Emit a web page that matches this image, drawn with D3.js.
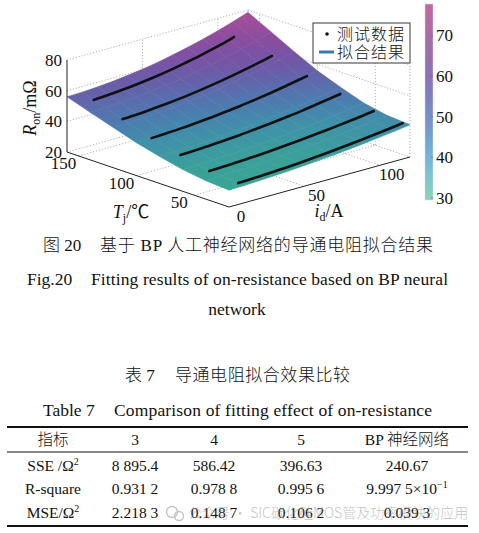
<!DOCTYPE html>
<html>
<head>
<meta charset="utf-8">
<script src="https://cdn.jsdelivr.net/npm/d3@7"></script>
<style>
html, body { margin: 0; padding: 0; background: #fff; }
svg { display: block; }
text { font-family: "Liberation Serif", "Times New Roman", "Noto Sans CJK SC", serif; fill: #111; }
.cjk { font-family: "Noto Sans CJK SC", sans-serif; font-weight: 300; }
.cap { font-weight: 300; }
</style>
</head>
<body>
<svg id="chart" width="479" height="533"></svg>
<script>
// ---------- Data ----------
// fitted surface: Ron (mΩ) on a Tj x id grid
const tjRows = [20, 40, 60, 80, 100, 120, 140, 160];
const idCols = [0, 10, 20, 30, 40, 50, 60, 70, 80, 90, 100, 110, 120];
const ronT20  = [31.0, 31.3, 31.7, 32.2, 32.8, 33.5, 34.3, 35.1, 36.1, 37.2, 38.4, 39.6, 41.0];
const ronT40  = [32.0, 32.3, 32.7, 33.1, 33.7, 34.4, 35.2, 36.1, 37.1, 38.2, 39.4, 40.7, 42.1];
const ronT60  = [34.2, 34.5, 34.9, 35.4, 36.0, 36.7, 37.6, 38.5, 39.6, 40.8, 42.1, 43.5, 45.0];
const ronT80  = [37.6, 37.9, 38.3, 38.9, 39.6, 40.4, 41.4, 42.5, 43.7, 45.1, 46.7, 48.3, 50.1];
const ronT100 = [41.4, 41.7, 42.2, 42.8, 43.6, 44.5, 45.6, 46.9, 48.3, 49.9, 51.7, 53.6, 55.7];
const ronT120 = [46.2, 46.5, 47.0, 47.7, 48.6, 49.7, 51.0, 52.5, 54.2, 56.1, 58.2, 60.5, 63.0];
const ronT140 = [51.0, 51.3, 51.9, 52.7, 53.7, 55.0, 56.5, 58.3, 60.3, 62.6, 65.1, 67.8, 70.8];
const ronT160 = [56.0, 56.3, 56.9, 57.8, 59.0, 60.4, 62.1, 64.2, 66.5, 69.0, 71.9, 75.1, 78.5];

// measured test data (one curve per junction temperature)
const testTj = [150, 125, 100, 75, 50, 25];
const testId150 = [10, 20, 30, 40, 50, 60, 70, 80, 90, 100, 103];
const testRon150 = [53.8, 54.4, 55.3, 56.4, 57.7, 59.3, 61.3, 63.4, 65.8, 68.5, 69.6];
const testId125 = [10, 20, 30, 40, 50, 60, 70, 80, 90, 100, 109];
const testRon125 = [47.7, 48.2, 49.0, 49.9, 51.0, 52.4, 54.0, 55.7, 57.7, 59.9, 62.1];
const testId100 = [10, 20, 30, 40, 50, 60, 70, 80, 90, 100, 110, 113];
const testRon100 = [41.7, 42.2, 42.8, 43.6, 44.5, 45.6, 46.9, 48.3, 49.9, 51.7, 53.6, 54.2];
const testId75 = [10, 20, 30, 40, 50, 60, 70, 80, 90, 100, 110, 116];
const testRon75 = [37.1, 37.5, 38.0, 38.7, 39.5, 40.5, 41.5, 42.7, 44.0, 45.6, 47.1, 48.1];
const testId50 = [10, 20, 30, 40, 50, 60, 70, 80, 90, 100, 110, 119];
const testRon50 = [33.0, 33.4, 33.8, 34.4, 35.1, 35.9, 36.8, 37.8, 38.9, 40.1, 41.3, 42.6];
const testId25 = [10, 20, 30, 40, 50, 60, 70, 80, 90, 100, 110, 119];
const testRon25 = [31.6, 32.0, 32.4, 33.0, 33.7, 34.5, 35.4, 36.4, 37.5, 38.7, 39.9, 41.1];

// ticks
const zTicks = [20, 40, 60, 80];
const tjTicks = [150, 100, 50];
const idTicks = [0, 50, 100];
const cbTicks = [30, 40, 50, 60, 70];

// colours (surface is darker than the colour bar)
const colorZ = [30, 35, 40, 45, 50, 55, 60, 65, 70, 78];
const surfColors = ["#3aa592", "#3b9e9c", "#3f92a8", "#4882ae", "#5572ae", "#6462aa", "#7256a6", "#8050a2", "#8f4c9e", "#a84e9a"];
const barColors  = ["#8ad0bc", "#7ec6cc", "#74b6d6", "#72a2d0", "#7690c6", "#7f80bc", "#8c72b2", "#9a6eac", "#a86ca8", "#c46aa0"];

// table
const tableHead = ["指标", "3", "4", "5", "BP 神经网络"];
const rowSSE = ["SSE /Ω^2", "8 895.4", "586.42", "396.63", "240.67"];
const rowR2  = ["R-square", "0.931 2", "0.978 8", "0.995 6", "9.997 5×10^−1"];
const rowMSE = ["MSE/Ω^2", "2.218 3", "0.148 7", "0.106 2", "0.039 3"];

// ---------- Setup ----------
const svg = d3.select("#chart");
const defs = svg.append("defs");

const ronGrid = [ronT20, ronT40, ronT60, ronT80, ronT100, ronT120, ronT140, ronT160];
const testCurves = [
  { tj: testTj[0], id: testId150, ron: testRon150 },
  { tj: testTj[1], id: testId125, ron: testRon125 },
  { tj: testTj[2], id: testId100, ron: testRon100 },
  { tj: testTj[3], id: testId75,  ron: testRon75 },
  { tj: testTj[4], id: testId50,  ron: testRon50 },
  { tj: testTj[5], id: testId25,  ron: testRon25 }
];

// 3-D axes: each scale gives a 0..1 position along its box edge
const uT = d3.scaleLinear().domain([160, 20]).range([0, 1]);
const uI = d3.scaleLinear().domain([0, 120]).range([0, 1]);
const uZ = d3.scaleLinear().domain([20, 80]).range([0, 1]);
const O = [67, 152], eT = [162, 55], eI = [181, -50], eZ = [0, -92];
function proj(t, i, z) {
  const a = uT(t), b = uI(i), c = uZ(z);
  return [O[0] + a*eT[0] + b*eI[0] + c*eZ[0], O[1] + a*eT[1] + b*eI[1] + c*eZ[1]];
}
const surfColor = d3.scaleLinear().domain(colorZ).range(surfColors).clamp(true);

// ---------- Grid (back walls + floor) ----------
const gGrid = svg.append("g").attr("fill", "none").attr("stroke", "#7a7a7a")
  .attr("stroke-width", 0.6).attr("stroke-dasharray", "1.2,1.8");
const seg = (p, q) => gGrid.append("line").attr("x1", p[0]).attr("y1", p[1]).attr("x2", q[0]).attr("y2", q[1]);
zTicks.forEach(z => {
  seg(proj(160, 0, z), proj(160, 120, z));
  seg(proj(160, 120, z), proj(20, 120, z));
});
idTicks.filter(d => d > 0).forEach(i => {
  seg(proj(160, i, 20), proj(160, i, 80));
  seg(proj(160, i, 20), proj(20, i, 20));
});
tjTicks.forEach(t => {
  seg(proj(t, 120, 20), proj(t, 120, 80));
  seg(proj(t, 0, 20), proj(t, 120, 20));
});
seg(proj(160, 120, 20), proj(160, 120, 80));
seg(proj(20, 120, 20), proj(20, 120, 80));

// ---------- Surface ----------
const quads = [];
for (let r = 0; r < tjRows.length - 1; r++) {
  for (let c = 0; c < idCols.length - 1; c++) {
    const k = [[r, c], [r + 1, c], [r + 1, c + 1], [r, c + 1]];
    const pts = k.map(([a, b]) => proj(tjRows[a], idCols[b], ronGrid[a][b]));
    const zs = k.map(([a, b]) => ronGrid[a][b]);
    const depth = (tjRows[r] + tjRows[r + 1]) / 280 + (idCols[c] + idCols[c + 1]) / 240;
    quads.push({ pts, zs, depth });
  }
}
quads.sort((a, b) => b.depth - a.depth);

const gSurf = svg.append("g");
quads.forEach((q, n) => {
  const [p0, p1, p2, p3] = q.pts, [z0, z1, z2, z3] = q.zs;
  // screen-space slope of Ron over the quad, used for the shading direction
  const e1 = [((p1[0]-p0[0]) + (p2[0]-p3[0]))/2, ((p1[1]-p0[1]) + (p2[1]-p3[1]))/2];
  const d1 = ((z1-z0) + (z2-z3))/2;
  const e2 = [((p3[0]-p0[0]) + (p2[0]-p1[0]))/2, ((p3[1]-p0[1]) + (p2[1]-p1[1]))/2];
  const d2 = ((z3-z0) + (z2-z1))/2;
  const det = e1[0]*e2[1] - e1[1]*e2[0];
  const gx = (d1*e2[1] - d2*e1[1]) / det, gy = (e1[0]*d2 - e2[0]*d1) / det;
  const g2 = gx*gx + gy*gy;
  const cx = d3.mean(q.pts, p => p[0]), cy = d3.mean(q.pts, p => p[1]), zc = d3.mean(q.zs);
  const zmin = d3.min(q.zs), zmax = d3.max(q.zs);
  const id = "sq" + n;
  const grad = defs.append("linearGradient").attr("id", id).attr("gradientUnits", "userSpaceOnUse")
    .attr("x1", cx + gx*(zmin - zc)/g2).attr("y1", cy + gy*(zmin - zc)/g2)
    .attr("x2", cx + gx*(zmax - zc)/g2).attr("y2", cy + gy*(zmax - zc)/g2);
  [0, 0.5, 1].forEach(o => grad.append("stop").attr("offset", o)
    .attr("stop-color", surfColor(zmin + o*(zmax - zmin))));
  gSurf.append("path")
    .attr("d", "M" + q.pts.map(p => p.join(",")).join("L") + "Z")
    .attr("fill", `url(#${id})`).attr("stroke", `url(#${id})`).attr("stroke-width", 0.6)
    .attr("stroke-linejoin", "round");
});

// ---------- Test data curves ----------
const line = d3.line().curve(d3.curveCatmullRom);
svg.append("g").selectAll("path").data(testCurves).enter().append("path")
  .attr("d", d => line(d.id.map((i, k) => proj(d.tj, i, d.ron[k]))))
  .attr("fill", "none").attr("stroke", "#111").attr("stroke-width", 2.6).attr("stroke-linecap", "round");

// ---------- Axes ----------
const gAx = svg.append("g").attr("stroke", "#222").attr("stroke-width", 1).attr("fill", "none");
const axLine = (p, q) => gAx.append("line").attr("x1", p[0]).attr("y1", p[1]).attr("x2", q[0]).attr("y2", q[1]);
axLine(proj(160, 0, 20), proj(160, 0, 80));
axLine(proj(160, 0, 20), proj(20, 0, 20));
axLine(proj(20, 0, 20), proj(20, 120, 20));

const gLab = svg.append("g").attr("font-size", 17);
zTicks.forEach(z => {
  const p = proj(160, 0, z);
  gLab.append("text").attr("x", p[0] - 5).attr("y", p[1] + 6).attr("text-anchor", "end").text(z);
});
tjTicks.forEach(t => {
  const p = proj(t, 0, 20);
  gLab.append("text").attr("x", p[0] - 15).attr("y", p[1] + 13).attr("text-anchor", "middle").text(t);
});
idTicks.forEach(i => {
  const p = proj(20, i, 20);
  gLab.append("text").attr("x", p[0] + 12).attr("y", p[1] + 15).attr("text-anchor", "middle").text(i);
});

// axis titles
const zt = gLab.append("text").attr("transform", "translate(36,108) rotate(-90)").attr("text-anchor", "middle").attr("font-size", 18);
zt.append("tspan").attr("font-style", "italic").text("R");
zt.append("tspan").attr("font-size", 12).attr("dy", 4).text("on");
zt.append("tspan").attr("dy", -4).text("/mΩ");

const tt = gLab.append("text").attr("x", 131).attr("y", 218).attr("text-anchor", "middle").attr("font-size", 18);
tt.append("tspan").attr("font-style", "italic").text("T");
tt.append("tspan").attr("font-size", 12).attr("dy", 4).text("j");
tt.append("tspan").attr("dy", -4).text("/℃");

const it = gLab.append("text").attr("x", 329).attr("y", 217).attr("text-anchor", "middle").attr("font-size", 18);
it.append("tspan").attr("font-style", "italic").text("i");
it.append("tspan").attr("font-size", 12).attr("dy", 4).text("d");
it.append("tspan").attr("dy", -4).text("/A");

// ---------- Legend ----------
const lg = svg.append("g");
lg.append("rect").attr("x", 313).attr("y", 23).attr("width", 97).attr("height", 40)
  .attr("fill", "#fff").attr("stroke", "#222").attr("stroke-width", 0.9);
lg.append("circle").attr("cx", 327).attr("cy", 34).attr("r", 1.8).attr("fill", "#111");
lg.append("line").attr("x1", 319).attr("x2", 334).attr("y1", 52).attr("y2", 52)
  .attr("stroke", "#3a78b4").attr("stroke-width", 3);
lg.append("text").attr("class", "cjk").attr("x", 337).attr("y", 40).attr("font-size", 16)
  .attr("letter-spacing", 1).text("测试数据");
lg.append("text").attr("class", "cjk").attr("x", 337).attr("y", 58).attr("font-size", 16)
  .attr("letter-spacing", 1).text("拟合结果");

// ---------- Colour bar ----------
const cbY = d3.scaleLinear().domain([29.5, 77.7]).range([200, 4]);
const cbGrad = defs.append("linearGradient").attr("id", "cbar").attr("x1", 0).attr("y1", 1).attr("x2", 0).attr("y2", 0);
colorZ.forEach((z, k) => cbGrad.append("stop")
  .attr("offset", Math.min(1, (z - 29.5) / (77.7 - 29.5))).attr("stop-color", barColors[k]));
svg.append("rect").attr("x", 425).attr("y", cbY(77.7)).attr("width", 8).attr("height", cbY(29.5) - cbY(77.7))
  .attr("fill", "url(#cbar)").attr("stroke", "#d8d8d8").attr("stroke-width", 0.5);
cbTicks.forEach(v => {
  svg.append("line").attr("x1", 431).attr("x2", 433).attr("y1", cbY(v)).attr("y2", cbY(v))
    .attr("stroke", "#666").attr("stroke-width", 0.6);
  svg.append("text").attr("x", 436).attr("y", cbY(v) + 6).attr("font-size", 17).text(v);
});

// ---------- Captions ----------
const cap = svg.append("g").attr("font-size", 17);
cap.append("text").attr("class", "cap").attr("x", 43).attr("y", 251).text("图 20");
cap.append("text").attr("class", "cap").attr("x", 100).attr("y", 251).attr("textLength", 333).attr("lengthAdjust", "spacing")
  .text("基于 BP 人工神经网络的导通电阻拟合结果");
cap.append("text").attr("x", 27).attr("y", 285).attr("font-size", 17.5).text("Fig.20");
cap.append("text").attr("x", 91).attr("y", 285).attr("font-size", 17.5).attr("textLength", 357)
  .attr("lengthAdjust", "spacing").text("Fitting results of on-resistance based on BP neural");
cap.append("text").attr("x", 237).attr("y", 315).attr("font-size", 17.5).attr("text-anchor", "middle").text("network");
cap.append("text").attr("class", "cap").attr("x", 125).attr("y", 381).text("表 7");
cap.append("text").attr("class", "cap").attr("x", 175).attr("y", 381).attr("textLength", 175).attr("lengthAdjust", "spacing")
  .text("导通电阻拟合效果比较");
cap.append("text").attr("x", 43).attr("y", 416).attr("font-size", 17.5).text("Table 7");
cap.append("text").attr("x", 114).attr("y", 416).attr("font-size", 17.5).attr("textLength", 318)
  .attr("lengthAdjust", "spacing").text("Comparison of fitting effect of on-resistance");

// ---------- Table ----------
const colX = [53, 135, 214, 301, 407];
const tb = svg.append("g").attr("font-size", 15.5);
[[7, 468, 427, 1.8], [7, 468, 452, 1], [7, 468, 526, 1.8]].forEach(([a, b, y, w]) =>
  tb.append("line").attr("x1", a).attr("x2", b).attr("y1", y).attr("y2", y).attr("stroke", "#111").attr("stroke-width", w));

function cell(str, x, y) {
  const t = tb.append("text").attr("class", "cap").attr("x", x).attr("y", y).attr("text-anchor", "middle");
  const [base, sup] = str.split("^");
  t.append("tspan").text(base);
  if (sup) t.append("tspan").attr("font-size", 10).attr("dy", -6).text(sup);
}
[[tableHead, 445], [rowSSE, 471], [rowR2, 494], [rowMSE, 518]].forEach(([row, y]) =>
  row.forEach((s, k) => cell(s, colX[k], y)));

// watermark over the table
const wm = svg.append("g").attr("opacity", 0.5);
wm.append("circle").attr("cx", 172).attr("cy", 512).attr("r", 5.5).attr("fill", "none").attr("stroke", "#8a8a8a").attr("stroke-width", 1.4);
wm.append("circle").attr("cx", 179).attr("cy", 516).attr("r", 4.5).attr("fill", "none").attr("stroke", "#8a8a8a").attr("stroke-width", 1.4);
wm.append("text").attr("class", "cjk").attr("x", 188).attr("y", 518).attr("font-size", 14)
  .style("fill", "#8a8a8a").text("公众号 · SIC碳化硅MOS管及功率模块的应用");
</script>
</body>
</html>
